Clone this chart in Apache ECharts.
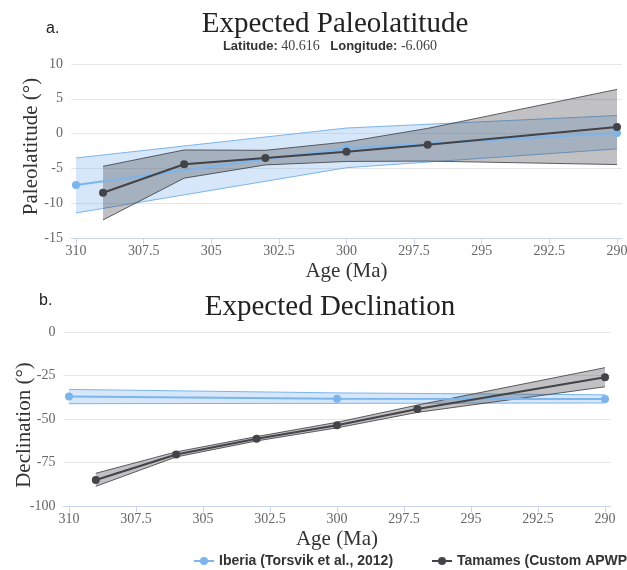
<!DOCTYPE html>
<html>
<head>
<meta charset="utf-8">
<script src="https://cdn.jsdelivr.net/npm/echarts@6/dist/echarts.min.js"></script>
<style>
  html, body { margin: 0; padding: 0; background: #fff; }
  #chart { width: 627px; height: 570px; }
</style>
</head>
<body>
<div id="chart"></div>
<script>
// Tick labels
const ageTicks = [310, 307.5, 305, 302.5, 300, 297.5, 295, 292.5, 290];
const latTicks = [-15, -10, -5, 0, 5, 10];
const decTicks = [-100, -75, -50, -25, 0];

// Iberia reference path (Torsvik et al., 2012)
const iberiaAges = [310, 300, 290];
const iberiaLat = [-7.4, -2.1, 0.1];
const iberiaLatLow = [-11.4, -4.9, -2.2];
const iberiaLatHigh = [-3.5, 0.8, 2.6];
const iberiaDec = [-37.0, -38.3, -38.5];
const iberiaDecLow = [-41.2, -41.0, -40.8];
const iberiaDecHigh = [-33.0, -35.0, -36.1];

// Tamames custom APWP
const tamamesAges = [309, 306, 303, 300, 297, 290];
const tamamesLat = [-8.5, -4.4, -3.5, -2.6, -1.6, 0.95];
const tamamesLatLow = [-12.4, -6.4, -4.5, -4.0, -3.95, -4.45];
const tamamesLatHigh = [-4.7, -2.35, -2.4, -1.2, 0.75, 6.35];
const tamamesDec = [-85.1, -70.4, -61.4, -53.6, -44.3, -26.0];
const tamamesDecLow = [-88.7, -71.8, -62.6, -55.1, -46.2, -31.5];
const tamamesDecHigh = [-81.2, -68.9, -60.1, -51.9, -42.0, -20.5];

const BLUE = '#7cb5ec';
const DARK = '#434348';
const SERIF = '"Liberation Serif", "Times New Roman", serif';
const SANS = '"Liberation Sans", Arial, sans-serif';

// Shaded confidence envelope drawn as one polygon through the axis scales
function band(name, axis, ages, low, high, fill, edge, z) {
  return {
    name: name,
    type: 'custom',
    xAxisIndex: axis,
    yAxisIndex: axis,
    silent: true,
    z: z,
    data: ages.map((a, i) => [a, low[i], high[i]]),
    encode: { x: 0, y: [1, 2] },
    renderItem: function (params, api) {
      if (params.dataIndex !== 0) return null;
      const up = ages.map((a, i) => api.coord([a, high[i]]));
      const dn = ages.map((a, i) => api.coord([a, low[i]]));
      return {
        type: 'group',
        children: [
          { type: 'polygon', shape: { points: up.concat(dn.slice().reverse()) },
            style: { fill: fill, stroke: null } },
          { type: 'polyline', shape: { points: up },
            style: { stroke: edge, lineWidth: 1, fill: null } },
          { type: 'polyline', shape: { points: dn },
            style: { stroke: edge, lineWidth: 1, fill: null } }
        ]
      };
    }
  };
}

function line(name, axis, ages, vals, color, z) {
  return {
    name: name,
    type: 'line',
    xAxisIndex: axis,
    yAxisIndex: axis,
    z: z,
    data: ages.map((a, i) => [a, vals[i]]),
    symbol: 'circle',
    symbolSize: 8,
    showSymbol: true,
    color: color,
    lineStyle: { width: 2, color: color },
    itemStyle: { color: color },
    emphasis: { disabled: true },
    animation: false
  };
}

function ageAxis(grid, pad) {
  return {
    gridIndex: grid,
    type: 'value',
    inverse: true,
    min: 290 - pad,
    max: 310 + pad,
    axisLine: { show: true, onZero: false, lineStyle: { color: '#ccd6eb', width: 1 } },
    axisTick: { show: true, customValues: ageTicks, length: 6, lineStyle: { color: '#ccd6eb' } },
    axisLabel: { customValues: ageTicks, color: '#666', fontFamily: SERIF, fontSize: 14, margin: 6 },
    splitLine: { show: false },
    name: 'Age (Ma)',
    nameLocation: 'middle',
    nameGap: 23,
    nameTextStyle: { fontFamily: SERIF, fontSize: 21, color: '#333' }
  };
}

function valueAxis(grid, ticks, title, gap, pad) {
  return {
    gridIndex: grid,
    type: 'value',
    min: ticks[0],
    max: ticks[ticks.length - 1],
    interval: ticks[1] - ticks[0],
    axisLine: { show: false },
    axisTick: { show: false },
    axisLabel: { color: '#666', fontFamily: SERIF, fontSize: 14, margin: 8 },
    splitLine: { show: true, lineStyle: { color: '#e6e6e6', width: 1 } },
    name: title,
    nameLocation: 'middle',
    nameGap: gap,
    nameMoveOverlap: false,
    nameTextStyle: { fontFamily: SERIF, fontSize: 21, color: '#333', padding: pad }
  };
}

const chart = echarts.init(document.getElementById('chart'), null, { renderer: 'canvas' });

chart.setOption({
  animation: false,
  backgroundColor: '#fff',
  grid: [
    { left: 71, right: 5, top: 64, height: 174, containLabel: false, outerBoundsMode: 'none' },
    { left: 63.5, right: 16.5, top: 332, height: 174, containLabel: false, outerBoundsMode: 'none' }
  ],
  xAxis: [ageAxis(0, 0.185), ageAxis(1, 0.205)],
  yAxis: [
    valueAxis(0, latTicks, 'Paleolatitude (°)', 29, [0, 0, 0, 9]),
    valueAxis(1, decTicks, 'Declination (°)', 29, [0, 12, 0, 0])
  ],
  legend: {
    data: ['Iberia (Torsvik et al., 2012)', 'Tamames (Custom APWP)'],
    left: 188,
    top: 549,
    width: 560,
    itemWidth: 20,
    itemHeight: 10,
    itemGap: 38,
    textStyle: { fontFamily: SANS, fontSize: 14, fontWeight: 'bold', color: '#333' }
  },
  graphic: [
    { type: 'text', x: 46, y: 29, style: { text: 'a.', font: '16px ' + SANS, fill: '#222', textAlign: 'left', textVerticalAlign: 'middle' } },
    { type: 'text', x: 335, y: 24, style: { text: 'Expected Paleolatitude', font: '29px ' + SERIF, fill: '#222', textAlign: 'center', textVerticalAlign: 'middle' } },
    { type: 'text', x: 330, y: 46, style: {
        text: '{b|Latitude:} 40.616   {b|Longitude:} -6.060',
        font: '14px ' + SERIF, fill: '#444', textAlign: 'center', textVerticalAlign: 'middle',
        rich: { b: { fontFamily: SANS, fontSize: 13, fontWeight: 'bold', fill: '#333', color: '#333' } }
      } },
    { type: 'text', x: 39, y: 301, style: { text: 'b.', font: '16px ' + SANS, fill: '#222', textAlign: 'left', textVerticalAlign: 'middle' } },
    { type: 'text', x: 330, y: 307, style: { text: 'Expected Declination', font: '29px ' + SERIF, fill: '#222', textAlign: 'center', textVerticalAlign: 'middle' } }
  ],
  series: [
    band('Iberia band lat', 0, iberiaAges, iberiaLatLow, iberiaLatHigh, 'rgba(124,181,236,0.32)', BLUE, 1),
    band('Tamames band lat', 0, tamamesAges, tamamesLatLow, tamamesLatHigh, 'rgba(67,67,72,0.33)', 'rgba(67,67,72,0.85)', 2),
    line('Iberia (Torsvik et al., 2012)', 0, iberiaAges, iberiaLat, BLUE, 3),
    line('Tamames (Custom APWP)', 0, tamamesAges, tamamesLat, DARK, 4),

    band('Iberia band dec', 1, iberiaAges, iberiaDecLow, iberiaDecHigh, 'rgba(124,181,236,0.32)', BLUE, 1),
    band('Tamames band dec', 1, tamamesAges, tamamesDecLow, tamamesDecHigh, 'rgba(67,67,72,0.33)', 'rgba(67,67,72,0.85)', 2),
    line('Iberia (Torsvik et al., 2012)', 1, iberiaAges, iberiaDec, BLUE, 3),
    line('Tamames (Custom APWP)', 1, tamamesAges, tamamesDec, DARK, 4)
  ]
});
</script>
</body>
</html>
